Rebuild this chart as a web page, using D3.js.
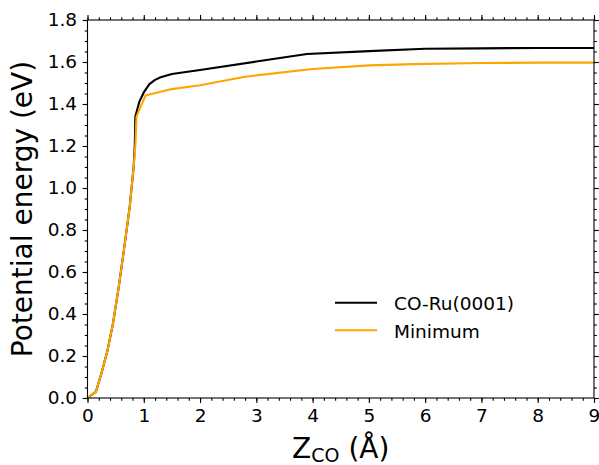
<!DOCTYPE html>
<html><head><meta charset="utf-8">
<script src="https://cdn.jsdelivr.net/npm/d3@7"></script>
<style>
body{margin:0;background:#fff;}
text{font-family:"DejaVu Sans",sans-serif;fill:#000;}
</style></head>
<body><svg id="c" width="599" height="465"></svg>
<script>
const seriesNames = ["CO-Ru(0001)", "Minimum"];
const seriesColors = ["#000000", "#FFA500"];
const zRu = [0,0.15,0.25,0.35,0.45,0.55,0.65,0.75,0.82,0.84,0.85,0.92,1.0,1.1,1.2,1.3,1.5,2.0,3.0,3.9,5.0,6.0,7.0,8.0,9.0];
const eRu = [0,0.03,0.12,0.22,0.35,0.52,0.71,0.91,1.1,1.2,1.34,1.41,1.455,1.495,1.515,1.527,1.543,1.562,1.602,1.638,1.652,1.663,1.665,1.667,1.667];
const zMin = [0,0.15,0.25,0.35,0.45,0.55,0.65,0.75,0.82,0.85,0.87,1.03,1.5,2.0,2.8,4.0,5.0,5.8,7.0,8.0,9.0];
const eMin = [0,0.03,0.12,0.22,0.35,0.52,0.71,0.91,1.1,1.2,1.34,1.44,1.471,1.489,1.53,1.567,1.584,1.59,1.595,1.597,1.597];
const xTicks = [0,1,2,3,4,5,6,7,8,9];
const yTicks = [0,0.2,0.4,0.6,0.8,1.0,1.2,1.4,1.6,1.8];

const L=87.5,R=594,T=20,B=398;
const svg=d3.select("#c");
const x=d3.scaleLinear().domain([0,9]).range([L,R]);
const y=d3.scaleLinear().domain([0,1.8]).range([B,T]);

const xMinor=d3.range(0,9.0001,0.2).map(v=>+v.toFixed(2));
const yMinor=d3.range(0,1.8001,0.05).map(v=>+v.toFixed(2));

function styleAxis(g){g.select(".domain").remove();g.selectAll("line").attr("stroke","#000").attr("stroke-width",1.1);}
// minor ticks
svg.append("g").attr("transform",`translate(0,${B})`).call(d3.axisBottom(x).tickValues(xMinor).tickSize(2.8).tickFormat("")).call(styleAxis);
svg.append("g").attr("transform",`translate(0,${T})`).call(d3.axisTop(x).tickValues(xMinor).tickSize(2.8).tickFormat("")).call(styleAxis);
svg.append("g").attr("transform",`translate(${L},0)`).call(d3.axisLeft(y).tickValues(yMinor).tickSize(2.8).tickFormat("")).call(styleAxis);
svg.append("g").attr("transform",`translate(${R},0)`).call(d3.axisRight(y).tickValues(yMinor).tickSize(2.8).tickFormat("")).call(styleAxis);
// major ticks
const gx=svg.append("g").attr("transform",`translate(0,${B})`).call(d3.axisBottom(x).tickValues(xTicks).tickSize(4.9).tickPadding(6).tickFormat(d3.format("d"))).call(styleAxis);
gx.selectAll("text").attr("font-size",18.5).attr("font-family","DejaVu Sans");
svg.append("g").attr("transform",`translate(0,${T})`).call(d3.axisTop(x).tickValues(xTicks).tickSize(4.9).tickFormat("")).call(styleAxis);
const gy=svg.append("g").attr("transform",`translate(${L},0)`).call(d3.axisLeft(y).tickValues(yTicks).tickSize(4.9).tickPadding(5.5).tickFormat(d3.format(".1f"))).call(styleAxis);
gy.selectAll("text").attr("font-size",18.5).attr("font-family","DejaVu Sans");
svg.append("g").attr("transform",`translate(${R},0)`).call(d3.axisRight(y).tickValues(yTicks).tickSize(4.9).tickFormat("")).call(styleAxis);

// lines
const line=d3.line().x(d=>x(d[0])).y(d=>y(d[1]));
const dRu=zRu.map((z,i)=>[z,eRu[i]]);
const dMin=zMin.map((z,i)=>[z,eMin[i]]);
svg.append("path").datum(dRu).attr("d",line).attr("fill","none").attr("stroke",seriesColors[0]).attr("stroke-width",2.1).attr("stroke-linejoin","round");
svg.append("path").datum(dMin).attr("d",line).attr("fill","none").attr("stroke",seriesColors[1]).attr("stroke-width",2.1).attr("stroke-linejoin","round");

// frame
svg.append("rect").attr("x",L).attr("y",T).attr("width",R-L).attr("height",B-T).attr("fill","none").attr("stroke","#000").attr("stroke-width",1.1);

// legend
const lg=svg.append("g");
seriesNames.forEach((n,i)=>{
  const yy=302.7+i*27.5;
  lg.append("line").attr("x1",335).attr("x2",377).attr("y1",yy).attr("y2",yy).attr("stroke",seriesColors[i]).attr("stroke-width",2.1);
  lg.append("text").attr("x",394).attr("y",yy+7.5).attr("font-size",18.5).text(n);
});

// axis labels
const xl=svg.append("text").attr("x",(L+R)/2).attr("y",457.5).attr("text-anchor","middle").attr("font-size",28);
xl.append("tspan").text("Z");
xl.append("tspan").attr("font-size",19).attr("dy",4).text("CO");
xl.append("tspan").attr("dy",-4).text(" (Å)");
svg.append("text").attr("transform",`translate(32,${(T+B)/2}) rotate(-90)`).attr("text-anchor","middle").attr("font-size",28).text("Potential energy (eV)");
</script></body></html>
